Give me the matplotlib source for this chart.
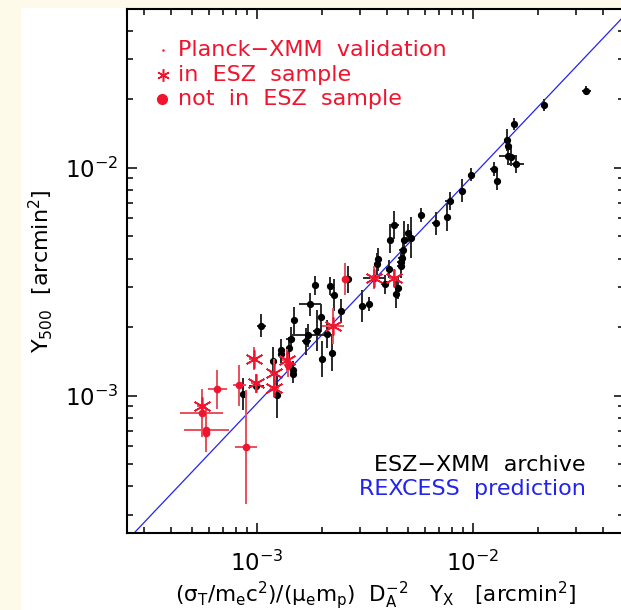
import numpy as np
import matplotlib
matplotlib.use('Agg')
import matplotlib.pyplot as plt
from matplotlib.patches import Rectangle
from matplotlib.ticker import LogLocator, NullFormatter

# ESZ-XMM archive clusters, values in units of 1e-3 arcmin^2, errors in dex
yx_arch = [0.864, 0.995, 1.049, 1.192, 1.244, 1.298, 1.302, 1.411, 1.436, 1.472,
           1.472, 1.486, 1.718, 1.694, 1.759, 1.867, 1.905, 1.985, 2.01, 2.12,
           2.18, 2.27, 2.24, 2.65, 2.45, 3.08, 3.31, 3.62, 3.64, 4.13,
           4.32, 4.10, 3.91, 4.51, 4.43, 4.64, 4.64, 4.68, 4.73, 4.81,
           5.02, 5.16, 5.79, 6.74, 7.60, 7.83, 8.96, 9.86, 12.55, 12.96,
           14.47, 14.57, 14.57, 15.1, 15.8, 15.5, 21.4, 33.6, 3.50]
y500_arch = [1.017, 1.103, 2.03, 1.426, 1.007, 1.585, 1.53, 1.618, 1.78, 1.296,
             1.251, 2.14, 1.845, 1.736, 2.52, 3.05, 1.93, 2.21, 1.449, 1.87,
             3.04, 2.76, 1.546, 3.24, 2.36, 2.47, 2.52, 3.79, 3.97, 4.85,
             5.62, 3.61, 3.08, 2.98, 2.79, 3.70, 3.86, 4.04, 4.38, 4.84,
             5.19, 4.94, 6.22, 5.72, 6.08, 7.14, 7.95, 9.35, 9.86, 8.80,
             13.26, 12.52, 11.32, 11.2, 10.4, 15.6, 18.9, 21.8, 3.30]
dy_arch = [0.07, 0.03, 0.05, 0.06, 0.10, 0.05, 0.04, 0.05, 0.05, 0.04,
           0.04, 0.06, 0.05, 0.06, 0.05, 0.04, 0.09, 0.06, 0.08, 0.06,
           0.04, 0.07, 0.08, 0.06, 0.05, 0.07, 0.03, 0.05, 0.05, 0.06,
           0.06, 0.04, 0.04, 0.05, 0.06, 0.05, 0.04, 0.04, 0.04, 0.08,
           0.04, 0.09, 0.03, 0.05, 0.06, 0.04, 0.05, 0.03, 0.03, 0.04,
           0.05, 0.04, 0.04, 0.04, 0.04, 0.025, 0.025, 0.02, 0.03]
dx_arch = [0.02, 0.035, 0.02, 0.015, 0.015, 0.015, 0.015, 0.015, 0.02, 0.015,
           0.015, 0.015, 0.08, 0.02, 0.05, 0.015, 0.02, 0.015, 0.015, 0.015,
           0.015, 0.015, 0.015, 0.02, 0.015, 0.015, 0.015, 0.015, 0.015, 0.015,
           0.025, 0.015, 0.015, 0.015, 0.015, 0.015, 0.015, 0.015, 0.015, 0.015,
           0.015, 0.02, 0.015, 0.015, 0.015, 0.02, 0.015, 0.015, 0.02, 0.015,
           0.015, 0.015, 0.04, 0.015, 0.04, 0.015, 0.015, 0.02, 0.05]

# Planck-XMM validation clusters in the ESZ sample
yx_esz = [0.556, 0.968, 0.989, 1.201, 1.206, 1.374, 2.26, 3.50, 4.31]
y500_esz = [0.899, 1.455, 1.133, 1.263, 1.081, 1.433, 2.02, 3.30, 3.28]
dy_esz = [0.04, 0.05, 0.04, 0.06, 0.04, 0.05, 0.08, 0.05, 0.04]
dx_esz = [0.02, 0.02, 0.02, 0.02, 0.02, 0.02, 0.05, 0.02, 0.02]

# Planck-XMM validation clusters not in the ESZ sample
yx_new = [0.657, 0.828, 0.556, 0.584, 0.582, 0.894, 2.57, 1.396]
y500_new = [1.068, 1.114, 0.837, 0.711, 0.690, 0.597, 3.24, 1.362]
dy_new = [0.085, 0.09, 0.105, 0.10, 0.08, 0.25, 0.07, 0.05]
dx_new = [0.045, 0.03, 0.10, 0.105, 0.02, 0.05, 0.01, 0.02]

# REXCESS prediction: Y500 = 0.924 * C * Yx
rexcess_norm = 0.924
x_range = [2.5e-4, 5e-2]
y_range = [2.5e-4, 5e-2]

RED = '#f0142e'
RED_BAR = '#e8505c'
BLUE = '#2323f0'
CREAM = '#fefaea'

plt.rcParams['font.family'] = 'DejaVu Sans'
plt.rcParams['mathtext.default'] = 'regular'


def to_arr(x, y, dy, dx):
    x = np.array(x) * 1e-3
    y = np.array(y) * 1e-3
    dy = np.array(dy)
    dx = np.array(dx)
    yerr = [y - y * 10**(-dy), y * 10**dy - y]
    xerr = [x - x * 10**(-dx), x * 10**dx - x]
    return x, y, xerr, yerr


fig = plt.figure(figsize=(6.21, 6.10), dpi=100, facecolor=CREAM)
fig.patches.append(Rectangle((21 / 621, 0), 1, (610 - 7.5) / 610,
                             transform=fig.transFigure, facecolor='white',
                             edgecolor='none', zorder=-10))
ax = fig.add_axes([126.7 / 621, 77 / 610, 497 / 621, 524.4 / 610])
ax.set_xscale('log')
ax.set_yscale('log')

x, y, xerr, yerr = to_arr(yx_arch, y500_arch, dy_arch, dx_arch)
ax.errorbar(x, y, xerr=xerr, yerr=yerr, fmt='o', ms=4.2, color='black',
            ecolor='#2a2a2a', elinewidth=1.4, capsize=0, zorder=3)

x, y, xerr, yerr = to_arr(yx_new, y500_new, dy_new, dx_new)
ax.errorbar(x, y, xerr=xerr, yerr=yerr, fmt='o', ms=4.5, color=RED,
            ecolor=RED_BAR, elinewidth=1.4, capsize=0, zorder=4)

x, y, xerr, yerr = to_arr(yx_esz, y500_esz, dy_esz, dx_esz)
ax.errorbar(x, y, xerr=xerr, yerr=yerr, fmt='none', ecolor=RED_BAR,
            elinewidth=1.4, capsize=0, zorder=4)
ax.plot(x, y, ls='none', marker=(6, 2, 0), ms=13, mec=RED, mew=1.2, zorder=5)

xl = np.array(x_range)
ax.plot(xl, rexcess_norm * xl, color=BLUE, lw=0.9, zorder=2)

ax.set_xlim(x_range)
ax.set_ylim(y_range)

for axis in (ax.xaxis, ax.yaxis):
    axis.set_major_locator(LogLocator(base=10, numticks=10))
    axis.set_minor_locator(LogLocator(base=10, subs=np.arange(2, 10), numticks=20))
    axis.set_minor_formatter(NullFormatter())
ax.tick_params(which='both', direction='in', top=True, right=True, width=1.1)
ax.tick_params(which='major', length=7, labelsize=16.5)
ax.tick_params(axis='x', which='major', pad=13)
ax.tick_params(axis='y', which='major', pad=6)
ax.tick_params(which='minor', length=4)
for s in ax.spines.values():
    s.set_linewidth(1.5)

ax.set_xlabel(r'$(\sigma_{T}/m_{e}c^{2})/(\mu_{e}m_{p})\ \ D_{A}^{-2}\ \ \ Y_{X}\ \ \ [arcmin^{2}]$',
              fontsize=15.5)
ax.xaxis.set_label_coords(0.5, -0.088)
ax.set_ylabel(r'$Y_{500}\ \ [arcmin^{2}]$', fontsize=16)
ax.yaxis.set_label_coords(-0.145, 0.5)

# legend drawn by hand in axes coordinates
ax.plot([0.073], [0.922], marker='.', ms=1.5, color=RED, transform=ax.transAxes)
ax.plot([0.073], [0.873], marker=(6, 2, 0), ms=9, mec=RED, mew=1.1,
        transform=ax.transAxes)
ax.plot([0.071], [0.827], marker='o', ms=7, color=RED, transform=ax.transAxes)
leg_txt = ['Planck\u2212XMM  validation', 'in  ESZ  sample', 'not  in  ESZ  sample']
for t, yy in zip(leg_txt, [0.922, 0.873, 0.827]):
    ax.text(0.103, yy, t, color=RED, fontsize=16, va='center', ha='left',
            transform=ax.transAxes)

ax.text(0.923, 0.130, 'ESZ\u2212XMM  archive', color='black', fontsize=16,
        ha='right', va='center', transform=ax.transAxes)
ax.text(0.923, 0.084, 'REXCESS  prediction', color=BLUE, fontsize=16,
        ha='right', va='center', transform=ax.transAxes)

fig.savefig('out.png', dpi=100, facecolor=CREAM)
